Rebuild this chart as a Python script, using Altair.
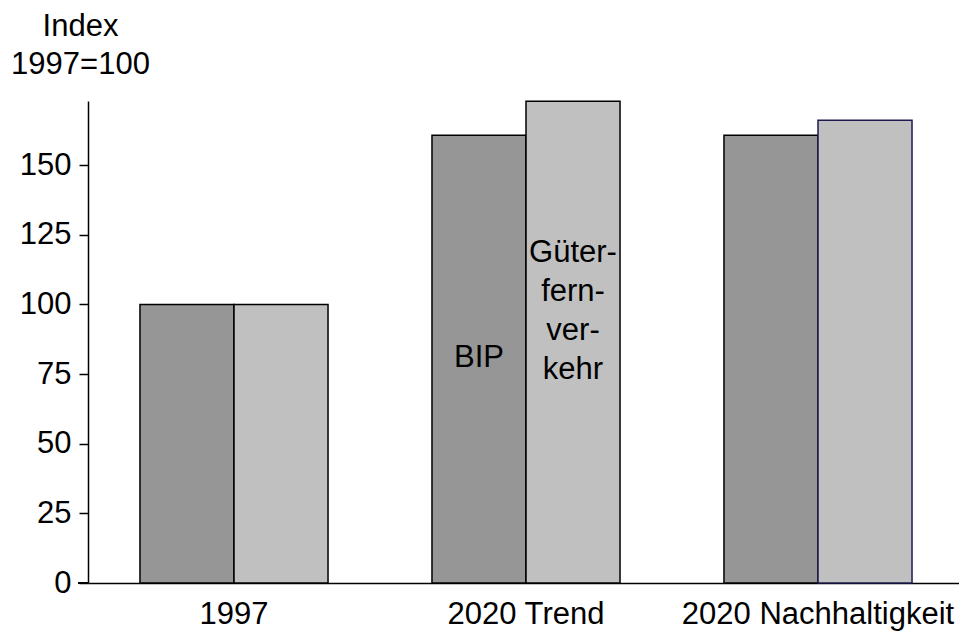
import altair as alt
import pandas as pd

categories = ["1997", "2020 Trend", "2020 Nachhaltigkeit"]
series = ["BIP", "Güterfernverkehr"]
bip = [100, 160.7, 160.7]
gueter = [100, 172.9, 166.1]
colors = ["#969696", "#c0c0c0"]

rows = []
for c, b, g in zip(categories, bip, gueter):
    rows.append({"Kategorie": c, "Reihe": series[0], "Wert": b})
    rows.append({"Kategorie": c, "Reihe": series[1], "Wert": g})
df = pd.DataFrame(rows)

FONT = "Liberation Sans"
FS = 31

x_enc = alt.X("Kategorie:N", sort=categories,
              scale=alt.Scale(paddingInner=0.356, paddingOuter=0.178),
              axis=alt.Axis(title=None, labelAngle=0, ticks=False, labelPadding=16,
                            labelFontSize=FS, labelFont=FONT, labelColor="black",
                            labelLimit=0, labelOverlap=False,
                            domainColor="black", domainWidth=1.5))
xo_enc = alt.XOffset("Reihe:N", sort=series,
                     scale=alt.Scale(paddingInner=0, paddingOuter=0))

bars = alt.Chart(df).mark_bar(strokeWidth=1.5).encode(
    x=x_enc,
    xOffset=xo_enc,
    y=alt.Y("Wert:Q", scale=alt.Scale(domain=[0, 173], nice=False),
            axis=alt.Axis(values=[0, 25, 50, 75, 100, 125, 150], grid=False,
                          title=["Index", "1997=100"], titleAngle=0, titleAlign="center",
                          titleBaseline="alphabetic", titleX=-8, titleY=-66,
                          titleLineHeight=38, titleFontSize=FS, titleFont=FONT,
                          titleFontWeight="normal", titleColor="black",
                          labelFontSize=FS, labelFont=FONT, labelColor="black",
                          labelPadding=8, tickSize=9, tickColor="black", tickWidth=1.5,
                          domainColor="black", domainWidth=1.5)),
    color=alt.Color("Reihe:N", sort=series,
                    scale=alt.Scale(domain=series, range=colors), legend=None),
    stroke=alt.condition(
        "datum.Kategorie == '2020 Nachhaltigkeit' && datum.Reihe == 'Güterfernverkehr'",
        alt.value("#1c1a4e"), alt.value("black")),
)

lab_df = pd.DataFrame({"Kategorie": ["2020 Trend", "2020 Trend"],
                       "Reihe": series,
                       "Text": [["BIP"], ["Güter-", "fern-", "ver-", "kehr"]],
                       "Pos": [77.5, 115.2]})

labels = alt.Chart(lab_df).mark_text(font=FONT, fontSize=FS, color="black",
                                     baseline="alphabetic", lineHeight=39).encode(
    x=alt.X("Kategorie:N", sort=categories),
    xOffset=alt.XOffset("Reihe:N", sort=series),
    y=alt.Y("Pos:Q"),
    text="Text",
)

stub = alt.Chart(df).mark_rule(color="black", strokeWidth=1.5).encode(
    x=alt.value(-10), x2=alt.value(0), y=alt.value(482))

chart = alt.layer(bars, labels, stub).properties(
    width=876, height=482,
    autosize=alt.AutoSizeParams(type="none"),
    padding={"left": 80, "top": 93, "right": -5, "bottom": 48},
).configure_view(stroke=None)

chart.save("out.html", embed_options={"renderer": "svg", "actions": False})
